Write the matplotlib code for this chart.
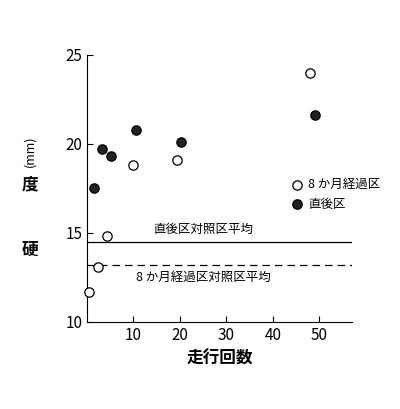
import matplotlib
matplotlib.use("Agg")
import matplotlib.pyplot as plt

plt.rcParams['font.family'] = ['Noto Sans CJK JP', 'DejaVu Sans']

open_x = [0.4, 2.3, 4.3, 9.8, 19.4, 48.0]
open_y = [11.7, 13.1, 14.8, 18.8, 19.1, 24.0]
fill_x = [1.5, 3.2, 5.1, 10.6, 20.2, 49.0]
fill_y = [17.5, 19.7, 19.3, 20.8, 20.1, 21.6]
ctrl_direct = 14.5
ctrl_8m = 13.2

fig = plt.figure(figsize=(4, 4.09), dpi=100)
ax = fig.add_axes([0.2175, 0.213, 0.6625, 0.653])
ax.scatter(open_x, open_y, s=45, facecolors='white', edgecolors='black', linewidths=0.9, zorder=3, clip_on=False)
ax.scatter(fill_x, fill_y, s=45, facecolors='#222222', edgecolors='black', linewidths=0.9, zorder=3, clip_on=False)
ax.axhline(ctrl_direct, color='black', lw=0.9)
ax.axhline(ctrl_8m, color='black', lw=0.9, ls=(0, (6, 4)))
ax.text(25, ctrl_direct + 0.35, '直後区対照区平均', ha='center', va='bottom', fontsize=9)
ax.text(25, ctrl_8m - 0.35, '8 か月経過区対照区平均', ha='center', va='top', fontsize=9)

ax.set_xlim(0, 57)
ax.set_ylim(10, 25)
ax.set_xticks([10, 20, 30, 40, 50])
ax.set_yticks([10, 15, 20, 25])
ax.tick_params(direction='in', labelsize=11, length=4)
for s in ['top', 'right']:
    ax.spines[s].set_visible(False)
ax.set_xlabel('走行回数', fontsize=12, fontweight='bold')

fig.text(0.075, 0.39, '硬', fontsize=12, fontweight='bold', ha='center', va='center')
fig.text(0.075, 0.55, '度', fontsize=12, fontweight='bold', ha='center', va='center')
fig.text(0.075, 0.63, '(mm)', fontsize=9, rotation=90, ha='center', va='center')

ax.scatter([45.2], [17.7], s=45, facecolors='white', edgecolors='black', linewidths=0.9, clip_on=False)
ax.scatter([45.2], [16.6], s=45, facecolors='#222222', edgecolors='black', clip_on=False)
ax.text(47.5, 17.7, '8 か月経過区', va='center', fontsize=9)
ax.text(47.5, 16.6, '直後区', va='center', fontsize=9)

fig.savefig('out.png', dpi=100)
